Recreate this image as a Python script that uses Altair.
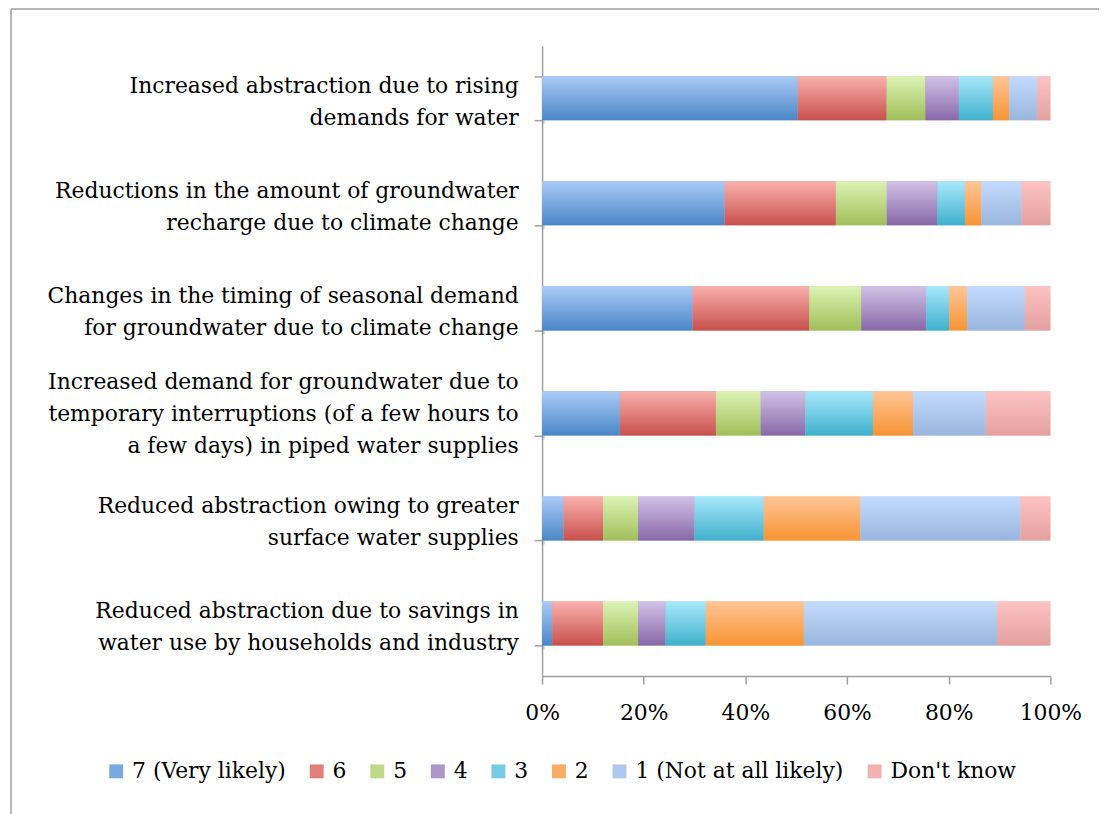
import altair as alt
import pandas as pd

questions = [
    "Increased abstraction due to rising|demands for water",
    "Reductions in the amount of groundwater|recharge due to climate change",
    "Changes in the timing of seasonal demand|for groundwater due to climate change",
    "Increased demand for groundwater due to|temporary interruptions (of a few hours to|a few days) in piped water supplies",
    "Reduced abstraction owing to greater|surface water supplies",
    "Reduced abstraction due to savings in|water use by households and industry",
]

series = ["7 (Very likely)", "6", "5", "4", "3", "2", "1 (Not at all likely)", "Don't know"]

s7 = [50.3, 35.9, 29.6, 15.3, 4.2, 2.0]
s6 = [17.5, 21.9, 23.0, 18.9, 7.8, 10.0]
s5 = [7.6, 10.0, 10.2, 8.8, 6.9, 6.9]
s4 = [6.6, 10.0, 12.8, 8.8, 11.1, 5.4]
s3 = [6.7, 5.4, 4.5, 13.3, 13.6, 7.9]
s2 = [3.2, 3.2, 3.5, 7.9, 19.0, 19.3]
s1 = [5.5, 7.9, 11.4, 14.3, 31.5, 38.0]
sdk = [2.6, 5.7, 5.0, 12.7, 5.9, 10.5]

mid_colors = ["#7AA9DE", "#E18079", "#BEDA87", "#AD95C8", "#74CCE4", "#FBAC64", "#AEC8EE", "#F1B2B1"]
top_colors = ["#ABCBF7", "#FAB1AD", "#DCF3B5", "#D2C2E7", "#A8E8FC", "#FFC596", "#C3DBFD", "#FDC3C3"]
bot_colors = ["#4A86C6", "#C8504C", "#A0BF59", "#8768A8", "#40B0CC", "#F79433", "#9AB6DE", "#E4A09F"]

all_vals = [s7, s6, s5, s4, s3, s2, s1, sdk]
rows = []
for si, (name, vals) in enumerate(zip(series, all_vals)):
    for qi, q in enumerate(questions):
        rows.append({"question": q, "series": name, "order": si, "value": vals[qi]})
df = pd.DataFrame(rows)

FONT = "DejaVu Serif"

base = alt.Chart(df).transform_stack(
    stack="value",
    groupby=["question"],
    as_=["x0", "x1"],
    offset="normalize",
    sort=[alt.SortField("order")],
)

y_enc = alt.Y(
    "question:N",
    sort=questions,
    title=None,
    scale=alt.Scale(paddingInner=0.58, paddingOuter=0.29),
    axis=alt.Axis(
        labelExpr="split(datum.label, '|')",
        labelFont=FONT,
        labelFontSize=22,
        labelColor="#000000",
        labelLineHeight=32,
        labelPadding=16,
        labelLimit=600,
        labelOffset={
            "condition": {"test": "indexof(datum.label, 'temporary') >= 0", "value": -32},
            "value": -13,
        },
        tickBand="extent",
        tickSize=8,
        tickColor="#A0A0A0",
        domainColor="#A0A0A0",
        domainWidth=1.5,
        tickWidth=1.5,
    ),
)

x_enc = alt.X(
    "x0:Q",
    title=None,
    scale=alt.Scale(domain=[0, 1], nice=False),
    axis=alt.Axis(
        values=[0, 0.2, 0.4, 0.6, 0.8, 1.0],
        format="%",
        labelFont=FONT,
        labelFontSize=22,
        labelColor="#000000",
        labelPadding=19,
        labelFlush=False,
        tickSize=8,
        tickColor="#A0A0A0",
        domainColor="#A0A0A0",
        domainWidth=1.5,
        tickWidth=1.5,
        grid=False,
    ),
)

shadow = base.transform_filter(alt.datum.order == 0).mark_bar(
    color="#000000", opacity=0.13, xOffset=3, yOffset=4
).encode(
    y=alt.Y("question:N", sort=questions),
    x=alt.X("x0:Q"),
    x2=alt.value(511),
)

solid = base.mark_bar().encode(
    y=y_enc,
    x=x_enc,
    x2="x1:Q",
    color=alt.Color(
        "series:N",
        scale=alt.Scale(domain=series, range=mid_colors),
        legend=alt.Legend(
            title=None,
            orient="none",
            direction="horizontal",
            legendX=-440,
            legendY=720,
            symbolType="square",
            symbolSize=196,
            symbolStrokeWidth=0,
            labelFont=FONT,
            labelFontSize=22,
            labelColor="#000000",
            labelOffset=5,
            columnPadding=20,
            labelLimit=400,
            padding=0,
        ),
    ),
)

layers = [shadow, solid]
for i, name in enumerate(series):
    grad = alt.Gradient(
        gradient="linear",
        stops=[
            alt.GradientStop(color=top_colors[i], offset=0),
            alt.GradientStop(color=bot_colors[i], offset=1),
        ],
        x1=0, x2=0, y1=0, y2=1,
    )
    layers.append(
        base.transform_filter(alt.datum.series == name)
        .mark_bar(fill=grad)
        .encode(y=alt.Y("question:N", sort=questions), x=alt.X("x0:Q"), x2="x1:Q")
    )

frame_data = pd.DataFrame({"k": [0]})
left_line = alt.Chart(frame_data).mark_rule(color="#A0A0A0", strokeWidth=1.5).encode(
    x=alt.value(-535), y=alt.value(-37), y2=alt.value(800)
)
top_line = alt.Chart(frame_data).mark_rule(color="#A0A0A0", strokeWidth=1.5).encode(
    x=alt.value(-535), x2=alt.value(700), y=alt.value(-37)
)
layers += [left_line, top_line]

chart = alt.layer(*layers).properties(
    width=512,
    height=635,
    autosize="none",
    padding={"left": 538, "top": 35, "right": 49, "bottom": 136},
).configure_view(stroke=None)

chart.save("out.html", embed_options={"renderer": "svg", "actions": False})
